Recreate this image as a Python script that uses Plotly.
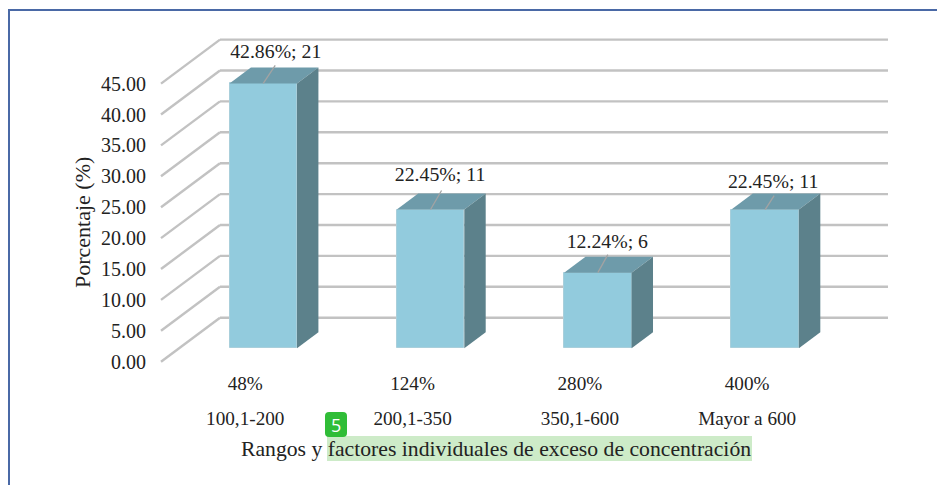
import plotly.graph_objects as go

# ---- data ----
rangos = ["100,1-200", "200,1-350", "350,1-600", "Mayor a 600"]
factores = ["48%", "124%", "280%", "400%"]
porcentaje = [42.86, 22.45, 12.24, 22.45]
casos = [21, 11, 6, 11]
y_ticks = [0, 5, 10, 15, 20, 25, 30, 35, 40, 45]

# ---- page geometry (pixels) ----
W, H = 937, 485
M_L, M_T, M_R, M_B = 152, 0, 0, 115
X0_PX, X_STEP = 245.25, 167.3
Y0_PX, Y_STEP = 361.7, 6.18

# ---- oblique 3D projection: depth 0 = front plane, depth 1 = back wall ----
DEPTH_X = 59 / X_STEP
DEPTH_Y = 44 / Y_STEP
BAR_HALF = 0.2017
BAR_FRONT, BAR_BACK = 0.305, 0.668
GRID_RIGHT = (888 - X0_PX) / X_STEP
GRID_BACK_LEFT = (220 - X0_PX - 59) / X_STEP

C_FRONT, C_TOP, C_SIDE = "#92CBDD", "#6E9BAA", "#5C818B"
C_GRID, C_TEXT, C_LEAD = "#C2C2C2", "#222222", "#A3A3A3"
FONT = "Liberation Serif"
FS = 19.2


def proj(x, v, d):
    return x + d * DEPTH_X, v + d * DEPTH_Y


def px(x):
    return (x - M_L) / (W - M_L - M_R)


def py(y):
    return 1 - (y - M_T) / (H - M_T - M_B)


shapes = []
# gridlines: front edge to back wall, then along the wall
for t in y_ticks:
    for a, b in ((proj(GRID_BACK_LEFT, t, 0), proj(GRID_BACK_LEFT, t, 1)),
                 (proj(GRID_BACK_LEFT, t, 1), (GRID_RIGHT, t + DEPTH_Y))):
        shapes.append(dict(type="line", xref="x", yref="y", x0=a[0], y0=a[1], x1=b[0], y1=b[1],
                           layer="below", line=dict(color=C_GRID, width=2.4)))

# page frame
C_FRAME = "#4A69A6"
shapes.append(dict(type="line", xref="paper", yref="paper", x0=px(9), x1=px(9), y0=py(10), y1=py(485),
                   line=dict(color=C_FRAME, width=2)))
shapes.append(dict(type="line", xref="paper", yref="paper", x0=px(8), x1=px(937), y0=py(10), y1=py(10),
                   line=dict(color=C_FRAME, width=2)))
# highlight behind the axis title
shapes.append(dict(type="rect", xref="paper", yref="paper", x0=px(327), x1=px(752), y0=py(436), y1=py(461),
                   fillcolor="#CDEBC8", line=dict(width=0), layer="below"))
# rounded badge
bx0, bx1, by0, by1, r = 325, 347, 412, 437, 4
path = (f"M {px(bx0 + r)} {py(by0)} L {px(bx1 - r)} {py(by0)} Q {px(bx1)} {py(by0)} {px(bx1)} {py(by0 + r)} "
        f"L {px(bx1)} {py(by1 - r)} Q {px(bx1)} {py(by1)} {px(bx1 - r)} {py(by1)} "
        f"L {px(bx0 + r)} {py(by1)} Q {px(bx0)} {py(by1)} {px(bx0)} {py(by1 - r)} "
        f"L {px(bx0)} {py(by0 + r)} Q {px(bx0)} {py(by0)} {px(bx0 + r)} {py(by0)} Z")
shapes.append(dict(type="path", xref="paper", yref="paper", path=path, fillcolor="#30BD37", line=dict(width=0)))

fig = go.Figure()
idx = list(range(len(rangos)))

# front faces as real bars, shifted to the bar plane
fig.add_trace(go.Bar(
    x=[proj(i, 0, BAR_FRONT)[0] for i in idx],
    y=porcentaje,
    base=[proj(i, 0, BAR_FRONT)[1] for i in idx],
    width=2 * BAR_HALF,
    marker=dict(color=C_FRONT, line=dict(color="#A9CFDB", width=1)),
    showlegend=False, hoverinfo="skip",
))


def face(points, color):
    xs, ys = zip(*points)
    fig.add_trace(go.Scatter(x=list(xs) + [xs[0]], y=list(ys) + [ys[0]], mode="lines", fill="toself",
                             fillcolor=color, line=dict(width=0), showlegend=False, hoverinfo="skip"))


for i, v in zip(idx, porcentaje):
    l, rr = i - BAR_HALF, i + BAR_HALF
    face([proj(l, v, BAR_FRONT), proj(rr, v, BAR_FRONT), proj(rr, v, BAR_BACK), proj(l, v, BAR_BACK)], C_TOP)
    face([proj(rr, 0, BAR_FRONT), proj(rr, v, BAR_FRONT), proj(rr, v, BAR_BACK), proj(rr, 0, BAR_BACK)], C_SIDE)

# data labels and leader lines
LABEL_DX_PX = [12.5, 9.5, 9.5, 8]
LABEL_DY_PX = [30.5, 33, 30, 26.5]
LEAD_DX_PX = [12, 11, 10, 9]
LEAD_DY_PX = [18, 19, 18, 14]
annotations = []
for i, v, n, dx, dy, ldx, ldy in zip(idx, porcentaje, casos, LABEL_DX_PX, LABEL_DY_PX, LEAD_DX_PX, LEAD_DY_PX):
    cx, top = proj(i, v, BAR_FRONT)
    fig.add_trace(go.Scatter(x=[cx, cx + ldx / X_STEP], y=[top, top + ldy / Y_STEP], mode="lines",
                             line=dict(color=C_LEAD, width=1.3), showlegend=False, hoverinfo="skip"))
    fig.add_trace(go.Scatter(x=[cx + dx / X_STEP], y=[top + dy / Y_STEP], mode="text",
                             text=[f"{v:.2f}%; {n}"], textposition="middle center",
                             textfont=dict(family=FONT, size=19.8, color=C_TEXT),
                             showlegend=False, hoverinfo="skip"))

# second category row needs its own axis
fig.add_trace(go.Scatter(x=idx, y=porcentaje, xaxis="x2", mode="markers", marker=dict(opacity=0),
                         showlegend=False, hoverinfo="skip"))

annotations.append(dict(xref="paper", yref="paper", x=px(496), y=py(449), xanchor="center", yanchor="middle",
                        showarrow=False, text="Rangos y factores individuales de exceso de concentración",
                        font=dict(family=FONT, size=21.7, color=C_TEXT)))
annotations.append(dict(xref="paper", yref="paper", x=px(83), y=py(223), xanchor="center", yanchor="middle",
                        showarrow=False, textangle=-90,
                        text="Porcentaje (%)", font=dict(family=FONT, size=22, color=C_TEXT)))
annotations.append(dict(xref="paper", yref="paper", x=px(336), y=py(425), xanchor="center", yanchor="middle",
                        showarrow=False, text="5", font=dict(family="Open Sans", size=18, color="#FFFFFF")))

x_range = [(M_L - X0_PX) / X_STEP, (W - M_R - X0_PX) / X_STEP]
y_range = [(Y0_PX - (H - M_B)) / Y_STEP, (Y0_PX - M_T) / Y_STEP]
tick_font = dict(family=FONT, size=FS, color=C_TEXT)

fig.update_layout(
    width=W, height=H, margin=dict(l=M_L, r=M_R, t=M_T, b=M_B, pad=0),
    paper_bgcolor="white", plot_bgcolor="rgba(0,0,0,0)", showlegend=False,
    shapes=shapes, annotations=annotations, bargap=0,
    xaxis=dict(range=x_range, tickvals=idx, ticktext=factores, showgrid=False, zeroline=False,
               showline=False, ticks="", tickfont=tick_font, tickangle=0, automargin=False),
    xaxis2=dict(range=x_range, overlaying="x", side="bottom", tickvals=idx, ticktext=rangos, showgrid=False,
                zeroline=False, showline=False, ticks="", tickfont=tick_font, tickangle=0,
                ticklabelstandoff=35, automargin=False),
    yaxis=dict(range=y_range, tickvals=y_ticks, tickformat=".2f", showgrid=False, zeroline=False,
               showline=False, ticks="", tickfont=dict(family=FONT, size=20, color=C_TEXT),
               ticklabelstandoff=5, automargin=False),
)

fig.write_html("out.html", config={"displayModeBar": False}, post_script="document.body.style.margin='0';")
